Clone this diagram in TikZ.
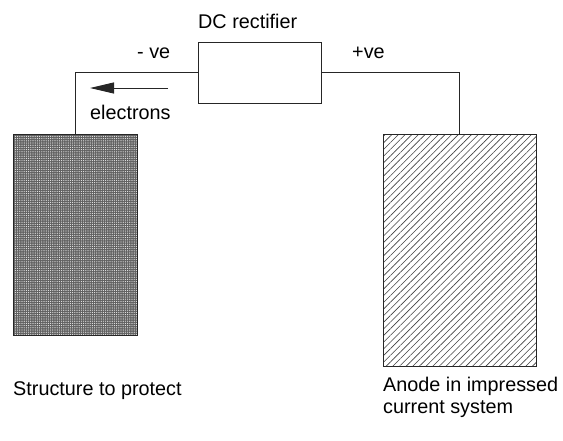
\documentclass[tikz,border=0pt]{standalone}
\usepackage{fontspec}
\setmainfont{Liberation Sans}
\usetikzlibrary{patterns,patterns.meta,arrows.meta}
\begin{document}
\begin{tikzpicture}[x=1pt,y=-1pt,
  wire/.style={line width=1pt,black!85},
  lbl/.style={inner sep=0pt,anchor=base west,font=\fontsize{19.8}{22}\selectfont},
  box/.style={draw=black!85,line width=1pt}]
\useasboundingbox (0,0) rectangle (563,440);
% rectifier
\node[box,minimum width=123pt,minimum height=61pt,inner sep=0pt] (rect) at (259.5,72.5) {};
\node[lbl] (dclab) at (198,28) {DC rectifier};
% structure (cathode)
\fill[black!62] (13,134) rectangle (137,335);
\path[pattern={Dots[radius=0.6pt,distance=2.2pt]},pattern color=white!92!black] (13,134) rectangle (137,335);
\draw[box] (13,134) rectangle (137,335);
\coordinate (struct) at (75,134);
% anode
\path[pattern={Lines[angle=45,distance=4.7pt,line width=0.6pt]},pattern color=black!75] (383,134) rectangle (536,366);
\draw[box] (383,134) rectangle (536,366);
\coordinate (anode) at (459,134);
% wires
\draw[wire] (rect.west) -| (struct);
\draw[wire] (rect.east) -| (anode);
% electrons arrow
\coordinate (arrS) at (168,88);
\coordinate (arrE) at (90,88);
\draw[line width=1pt,black!85,-{Triangle[length=24pt,width=11pt]}] (arrS) -- (arrE);
% labels
\node[lbl] (neg) at (137,58) {- ve};
\node[lbl] (pos) at (352,58) {+ve};
\node[lbl] (elec) at (90,119) {electrons};
\node[lbl] (slab) at (13,395) {Structure to protect};
\node[lbl,align=left,anchor=base west] (alab) at (383,413) {Anode in impressed\\current system};
\end{tikzpicture}
\end{document}
